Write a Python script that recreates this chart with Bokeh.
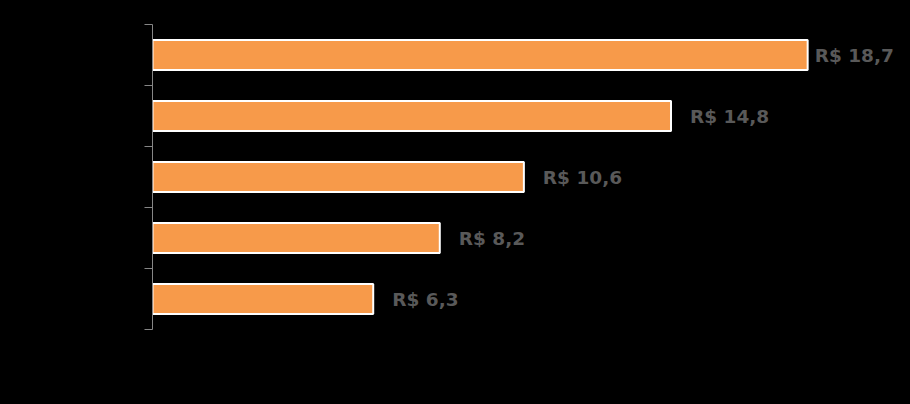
from bokeh.plotting import figure
from bokeh.models import ColumnDataSource, Range1d, FixedTicker
from bokeh.core.properties import value
from bokeh.embed import file_html
from bokeh.resources import INLINE

# data (top to bottom)
values = [18.7, 14.8, 10.6, 8.2, 6.3]
labels = ["R$ 18,7", "R$ 14,8", "R$ 10,6", "R$ 8,2", "R$ 6,3"]
label_offsets = [7, 19, 19, 19, 19]

n = len(values)
ypos = [n - i - 0.5 for i in range(n)]
src = ColumnDataSource(dict(y=ypos, v=values, lab=labels, off=label_offsets))

p = figure(width=910, height=404, output_backend="svg", toolbar_location=None,
           x_range=Range1d(0, 21.35), y_range=Range1d(0, n),
           min_border_left=152, min_border_right=10, min_border_top=24, min_border_bottom=75)
p.background_fill_color = "black"
p.border_fill_color = "black"
p.outline_line_color = None
p.xgrid.visible = False
p.ygrid.visible = False
p.xaxis.visible = False

p.yaxis.ticker = FixedTicker(ticks=list(range(n + 1)))
p.yaxis.major_label_overrides = {i: "" for i in range(n + 1)}
p.yaxis.axis_line_color = "#868686"
p.yaxis.major_tick_line_color = "#868686"
p.yaxis.major_tick_out = 8
p.yaxis.major_tick_in = 0
p.yaxis.minor_tick_line_color = None
p.yaxis.major_label_text_color = "black"

p.hbar(y="y", left=0, right="v", height=0.49, source=src,
       fill_color="#F79A4A", line_color="white", line_width=2)

p.text(x="v", y="y", text="lab", x_offset="off", source=src,
       text_font=value("DejaVu Sans"), text_font_style="bold",
       text_font_size="18.5px", text_color="#595959",
       text_baseline="middle", text_align="left")

html = file_html(p, INLINE)
html = html.replace("<head>", "<head><style>html,body{background:#000;margin:0;padding:0}</style>", 1)
open("out.html", "w").write(html)
